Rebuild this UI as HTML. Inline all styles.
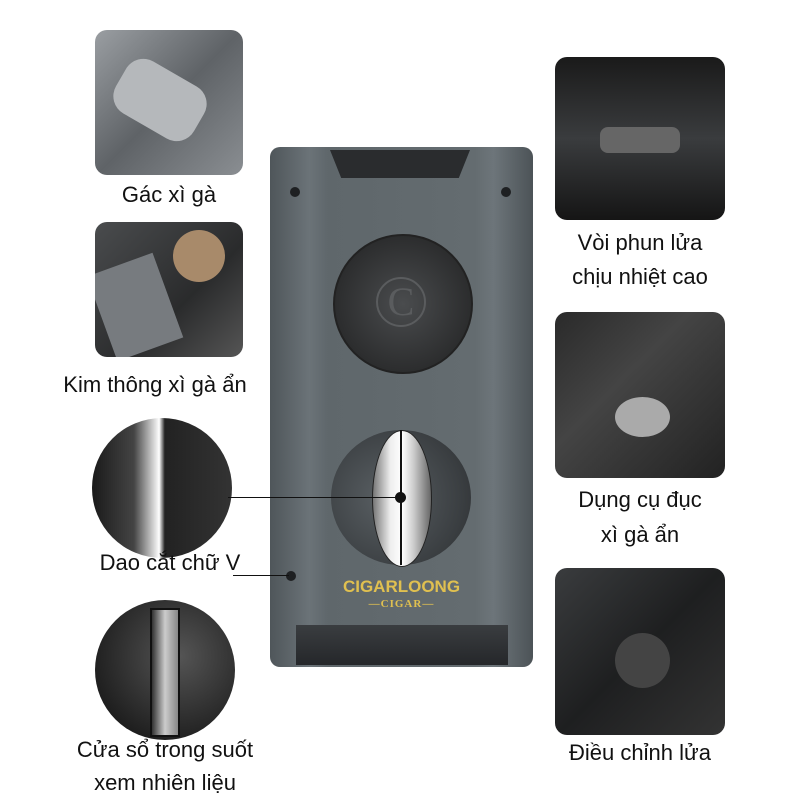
<!DOCTYPE html>
<html><head><meta charset="utf-8"><style>
body{margin:0;width:800px;height:800px;background:#fff;position:relative;overflow:hidden;font-family:"Liberation Sans","DejaVu Sans",sans-serif}
.a{position:absolute}
.img{position:absolute;border-radius:12px;overflow:hidden;background:linear-gradient(135deg,#6a6e72,#2a2c2e 55%,#4a4d50)}
.lbl{position:absolute;font-size:22px;color:#111;text-align:center;white-space:nowrap;line-height:34px}
</style></head><body>
<!-- left images -->
<div class="img" style="left:95px;top:30px;width:148px;height:145px;background:linear-gradient(135deg,#9a9ea2,#5f6367 50%,#8a8e92)"><div class="a" style="left:20px;top:40px;width:90px;height:60px;border-radius:20px;background:#b5b8bb;transform:rotate(30deg)"></div></div>
<div class="lbl" style="left:95px;top:178px;width:148px">Gác xì gà</div>
<div class="img" style="left:95px;top:222px;width:148px;height:135px;background:linear-gradient(135deg,#4a4c4e,#2a2b2c 60%,#555)"><div class="a" style="left:78px;top:8px;width:52px;height:52px;border-radius:50%;background:#a88a6a"></div><div class="a" style="left:5px;top:40px;width:70px;height:90px;background:#777b7f;transform:rotate(-20deg)"></div></div>
<div class="lbl" style="left:30px;top:368px;width:250px">Kim thông xì gà ẩn</div>
<div class="a" style="left:92px;top:418px;width:140px;height:140px;border-radius:50%;background:linear-gradient(90deg,#1a1a1a 0,#444 30%,#ddd 45%,#fff 48%,#222 52%,#333 100%)"></div>
<div class="lbl" style="left:60px;top:546px;width:220px">Dao cắt chữ V</div>
<div class="a" style="left:95px;top:600px;width:140px;height:140px;border-radius:50%;background:radial-gradient(circle at 60% 40%,#555,#1a1a1a 80%)"><div class="a" style="left:55px;top:8px;width:26px;height:125px;background:linear-gradient(90deg,#333,#ccc,#888);border:2px solid #111"></div></div>
<div class="lbl" style="left:40px;top:733px;width:250px">Cửa sổ trong suốt</div>
<div class="lbl" style="left:40px;top:766px;width:250px">xem nhiên liệu</div>
<!-- device -->
<div class="a" style="left:270px;top:147px;width:263px;height:520px;border-radius:10px;background:linear-gradient(90deg,#4f565a,#6b7378 15%,#5f676b 22%,#646c70 78%,#6d757a 85%,#4c5357)"></div>
<div class="a" style="left:330px;top:150px;width:140px;height:28px;background:#2a2c2e;clip-path:polygon(0 0,100% 0,92% 100%,8% 100%)"></div>
<div class="a" style="left:290px;top:187px;width:10px;height:10px;border-radius:50%;background:#1e2022"></div>
<div class="a" style="left:501px;top:187px;width:10px;height:10px;border-radius:50%;background:#1e2022"></div>
<div class="a" style="left:333px;top:234px;width:136px;height:136px;border-radius:50%;background:radial-gradient(circle,#4a4c4e,#2c2d2e 70%,#1a1a1a);border:2px solid #222"></div>
<div class="a" style="left:376px;top:277px;width:46px;height:46px;border-radius:50%;border:2px solid #5a5c5e;color:#5a5c5e;font:40px/46px 'Liberation Serif',serif;text-align:center">C</div>
<div class="a" style="left:331px;top:430px;width:140px;height:135px;border-radius:50%;background:radial-gradient(circle at 40% 50%,#5a6064,#3a3e41 70%,#2a2c2e)"></div>
<div class="a" style="left:372px;top:430px;width:58px;height:135px;border-radius:50%;background:linear-gradient(90deg,#777,#eee 30%,#fff 50%,#ccc 70%,#666);border:1px solid #222"></div>
<div class="a" style="left:400px;top:430px;width:2px;height:135px;background:#111"></div>
<div class="a" style="left:395px;top:492px;width:11px;height:11px;border-radius:50%;background:#111"></div>
<div class="a" style="left:228px;top:497px;width:170px;height:1px;background:#111"></div>
<div class="a" style="left:286px;top:571px;width:10px;height:10px;border-radius:50%;background:#1e2022"></div>
<div class="a" style="left:233px;top:575px;width:56px;height:1px;background:#111"></div>
<div class="a" style="left:270px;top:577px;width:263px;text-align:center;color:#e0c050;font-weight:bold;font-size:17px">CIGARLOONG</div>
<div class="a" style="left:270px;top:598px;width:263px;text-align:center;color:#e0c050;font:bold 11px 'Liberation Serif',serif;letter-spacing:1px">—CIGAR—</div>
<div class="a" style="left:296px;top:625px;width:212px;height:40px;background:linear-gradient(#3a3d40,#25272a)"></div>
<!-- right images -->
<div class="img" style="left:555px;top:57px;width:170px;height:163px;background:linear-gradient(#1a1a1a,#3a3c3e 50%,#151515)"><div class="a" style="left:45px;top:70px;width:80px;height:26px;border-radius:8px;background:#666"></div></div>
<div class="lbl" style="left:540px;top:226px;width:200px">Vòi phun lửa</div>
<div class="lbl" style="left:540px;top:260px;width:200px">chịu nhiệt cao</div>
<div class="img" style="left:555px;top:312px;width:170px;height:166px;background:linear-gradient(135deg,#2a2a2a,#444 40%,#222)"><div class="a" style="left:60px;top:85px;width:55px;height:40px;border-radius:50%;background:#aaa"></div></div>
<div class="lbl" style="left:540px;top:483px;width:200px">Dụng cụ đục</div>
<div class="lbl" style="left:540px;top:518px;width:200px">xì gà ẩn</div>
<div class="img" style="left:555px;top:568px;width:170px;height:167px;background:linear-gradient(135deg,#3a3c3e,#1e1f20 50%,#333)"><div class="a" style="left:60px;top:65px;width:55px;height:55px;border-radius:50%;background:#444"></div></div>
<div class="lbl" style="left:540px;top:736px;width:200px">Điều chỉnh lửa</div>
</body></html>
